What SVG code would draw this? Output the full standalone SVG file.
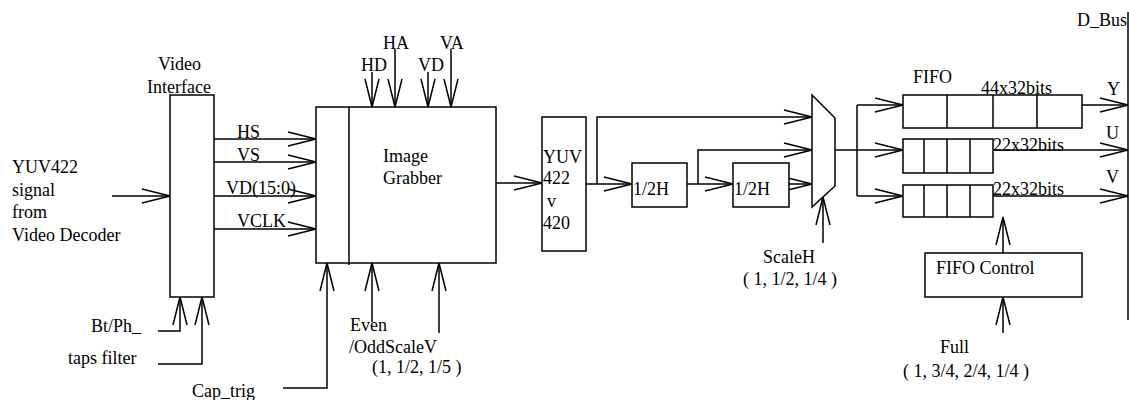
<svg xmlns="http://www.w3.org/2000/svg" width="1129" height="400" viewBox="0 0 1129 400">
<style>
text{font-family:"Liberation Serif","Times New Roman",serif;font-size:18px;fill:#000}
.b{fill:#fff;stroke:#000;stroke-width:1.5}
.l{fill:none;stroke:#000;stroke-width:1.5}
.a{fill:none;stroke:#000;stroke-width:1.5;marker-end:url(#ar)}
</style>
<defs>
<marker id="ar" markerUnits="userSpaceOnUse" markerWidth="32" markerHeight="18" refX="29" refY="8" orient="auto">
<path d="M1,1 L29,8 L1,15" fill="none" stroke="#000" stroke-width="1.5"/>
</marker>
</defs>
<rect width="1129" height="400" fill="#fff"/>

<g id="connectors">
<line class="a" x1="112" y1="196" x2="170" y2="196"/>
<line class="a" x1="214" y1="139" x2="316" y2="139"/>
<line class="a" x1="214" y1="162" x2="316" y2="162"/>
<line class="a" x1="214" y1="196" x2="316" y2="196"/>
<line class="a" x1="214" y1="229" x2="316" y2="229"/>
<polyline class="a" points="158,331 180,331 180,297"/>
<polyline class="a" points="158,364 202,364 202,297"/>
<polyline class="a" points="283,388 327,388 327,263"/>
<line class="a" x1="372" y1="322" x2="372" y2="263"/>
<line class="a" x1="439" y1="333" x2="439" y2="263"/>
<line class="a" x1="372" y1="72" x2="372" y2="107"/>
<line class="a" x1="395" y1="49" x2="395" y2="107"/>
<line class="a" x1="428" y1="72" x2="428" y2="107"/>
<line class="a" x1="451" y1="49" x2="451" y2="107"/>
<line class="a" x1="496" y1="183" x2="542" y2="183"/>
<line class="a" x1="586" y1="184" x2="632" y2="184"/>
<polyline class="a" points="597,184 597,117 812,117"/>
<line class="a" x1="687" y1="184" x2="733" y2="184"/>
<polyline class="a" points="698,184 698,150 812,150"/>
<line class="a" x1="789" y1="184" x2="812" y2="184"/>
<line class="a" x1="823" y1="243" x2="823" y2="197"/>
<polyline class="l" points="835,150 857,150"/>
<line class="l" x1="857" y1="105" x2="857" y2="196"/>
<line class="a" x1="857" y1="105" x2="903" y2="105"/>
<line class="a" x1="857" y1="150" x2="903" y2="150"/>
<line class="a" x1="857" y1="196" x2="903" y2="196"/>
<line class="a" x1="1082" y1="105" x2="1128" y2="105"/>
<line class="a" x1="993" y1="150" x2="1128" y2="150"/>
<line class="a" x1="993" y1="196" x2="1128" y2="196"/>
<line class="a" x1="1003" y1="253" x2="1003" y2="217"/>
<line class="a" x1="1003" y1="333" x2="1003" y2="297"/>
<line class="l" x1="1128" y1="12" x2="1128" y2="320"/>
</g>

<g id="input-label">
<text x="12" y="173">YUV422</text>
<text x="12" y="195.5">signal</text>
<text x="12" y="218">from</text>
<text x="12" y="241">Video Decoder</text>
</g>

<g id="video-interface">
<rect class="b" x="170" y="95" width="44" height="202"/>
<text x="158" y="70">Video</text>
<text x="147" y="93">Interface</text>
</g>

<g id="signal-labels">
<text x="237" y="138">HS</text>
<text x="237" y="161">VS</text>
<text x="226" y="194">VD(15:0)</text>
<text x="237" y="227">VCLK</text>
<text x="91" y="332">Bt/Ph_</text>
<text x="68" y="364">taps filter</text>
<text x="192" y="397">Cap_trig</text>
<text x="361" y="71">HD</text>
<text x="383" y="49">HA</text>
<text x="418" y="71">VD</text>
<text x="440" y="49">VA</text>
<text x="350" y="331">Even</text>
<text x="349" y="353">/OddScaleV</text>
<text x="372" y="373">(1, 1/2, 1/5 )</text>
</g>

<g id="image-grabber">
<rect class="b" x="316" y="107" width="180" height="156"/>
<line class="l" x1="349" y1="107" x2="349" y2="265"/>
<text x="383" y="162">Image</text>
<text x="383" y="184">Grabber</text>
</g>

<g id="yuv-converter">
<rect class="b" x="542" y="117" width="44" height="134"/>
<text x="543" y="163">YUV</text>
<text x="543" y="184">422</text>
<text x="547" y="207">v</text>
<text x="543" y="229">420</text>
</g>

<g id="half-h-1">
<rect class="b" x="632" y="163" width="55" height="44"/>
<text x="633" y="195">1/2H</text>
</g>
<g id="half-h-2">
<rect class="b" x="733" y="163" width="56" height="44"/>
<text x="734" y="195">1/2H</text>
</g>

<g id="mux">
<polygon class="b" points="812,95 835,118 835,186 812,207"/>
<text x="763" y="263">ScaleH</text>
<text x="743" y="285">( 1, 1/2, 1/4 )</text>
</g>

<g id="fifo-y">
<rect class="b" x="903" y="95" width="179" height="33"/>
<line class="l" x1="947" y1="95" x2="947" y2="128"/>
<line class="l" x1="993" y1="95" x2="993" y2="128"/>
<line class="l" x1="1037" y1="95" x2="1037" y2="128"/>
<text x="913" y="83">FIFO</text>
<text x="981" y="94">44x32bits</text>
<text x="1107" y="95">Y</text>
</g>
<g id="fifo-u">
<rect class="b" x="903" y="139" width="90" height="34"/>
<line class="l" x1="924" y1="139" x2="924" y2="173"/>
<line class="l" x1="947" y1="139" x2="947" y2="173"/>
<line class="l" x1="970" y1="139" x2="970" y2="173"/>
<text x="993" y="151">22x32bits</text>
<text x="1106" y="139">U</text>
</g>
<g id="fifo-v">
<rect class="b" x="903" y="185" width="90" height="32"/>
<line class="l" x1="924" y1="185" x2="924" y2="217"/>
<line class="l" x1="947" y1="185" x2="947" y2="217"/>
<line class="l" x1="970" y1="185" x2="970" y2="217"/>
<text x="993" y="195">22x32bits</text>
<text x="1106" y="183">V</text>
</g>

<g id="fifo-control">
<rect class="b" x="925" y="253" width="157" height="44"/>
<text x="936" y="274">FIFO Control</text>
<text x="940" y="353">Full</text>
<text x="903" y="377">( 1, 3/4, 2/4, 1/4 )</text>
</g>

<g id="d-bus">
<text x="1077" y="26">D_Bus</text>
</g>
</svg>
